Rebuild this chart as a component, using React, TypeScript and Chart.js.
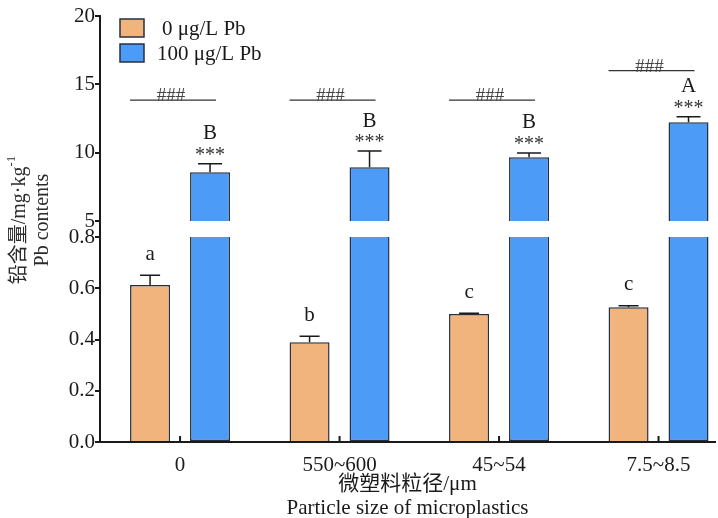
import { useEffect, useRef } from 'react'
import { Chart, registerables } from 'chart.js'

Chart.register(...registerables)

// particle size groups and the two Pb treatments
const sizeLabels = ['0', '550~600', '45~54', '7.5~8.5']
const seriesNames = ['0 μg/L Pb', '100 μg/L Pb']
const pb0 = [0.613, 0.389, 0.5, 0.526]
const pb0Err = [0.038, 0.024, 0.002, 0.006]
const pb100 = [8.56, 8.93, 9.66, 12.22]
const pb100Err = [0.63, 1.19, 0.32, 0.41]
const pb0Letters = ['a', 'b', 'c', 'c']
const pb100Letters = ['B', 'B', 'B', 'A']
const pb100Stars = ['***', '***', '***', '***']
const hashMarks = ['###', '###', '###', '###']
const hashLevels = [13.85, 13.85, 13.85, 16.0]
const lowTicks = [0, 0.2, 0.4, 0.6, 0.8]
const highTicks = [5, 10, 15, 20]
const xTitle = ['微塑料粒径/μm', 'Particle size of microplastics']
const yTitle = ['铅含量/mg·kg', '-1', 'Pb contents']

const ORANGE = '#F2B47D'
const BLUE = '#4C9BF7'
const EDGE = '#263041'
const INK = '#1a1a1a'
const SERIF = "'Liberation Serif', 'Times New Roman', 'Noto Sans CJK SC', serif"

// lower panel runs a little past its last tick so the break gap shows
const lowTop = lowTicks[lowTicks.length - 1]
const lowMax = lowTop * 221 / 205

Chart.defaults.font.family = SERIF
Chart.defaults.color = INK

const annotate = {
  id: 'annotate',
  afterDatasetsDraw(chart: Chart) {
    const { ctx, chartArea, scales } = chart
    const yLow = scales.yLow
    const yHigh = scales.yHigh
    const xs = scales.x
    const orange = chart.getDatasetMeta(0).data as any[]
    const blue = chart.getDatasetMeta(2).data as any[]

    ctx.save()
    ctx.strokeStyle = INK
    ctx.fillStyle = INK
    ctx.textAlign = 'center'

    const errBar = (cx: number, top: number, cap: number, half: number) => {
      ctx.lineWidth = 1.5
      ctx.beginPath()
      ctx.moveTo(cx, top)
      ctx.lineTo(cx, cap)
      ctx.moveTo(cx - half, cap)
      ctx.lineTo(cx + half, cap)
      ctx.stroke()
    }

    pb0.forEach((v, i) => {
      const cx = orange[i].x
      const cap = yLow.getPixelForValue(v + pb0Err[i])
      errBar(cx, yLow.getPixelForValue(v), cap, 10)
      ctx.font = `21px ${SERIF}`
      ctx.textBaseline = 'middle'
      ctx.fillText(pb0Letters[i], cx, cap - 21)
    })

    pb100.forEach((v, i) => {
      const cx = blue[i].x
      const cap = yHigh.getPixelForValue(v + pb100Err[i])
      errBar(cx, yHigh.getPixelForValue(v), cap, 12)
      ctx.textBaseline = 'middle'
      ctx.font = `21px ${SERIF}`
      ctx.fillText(pb100Letters[i], cx, cap - 30)
      ctx.font = `20px ${SERIF}`
      ctx.fillStyle = '#333'
      ctx.fillText(pb100Stars[i], cx, cap - 8)
      ctx.fillStyle = INK

      // ### bracket between the two treatments
      const ly = yHigh.getPixelForValue(hashLevels[i])
      const x0 = orange[i].x - 20
      const x1 = cx + 6
      ctx.strokeStyle = '#333'
      ctx.lineWidth = 1.2
      ctx.beginPath()
      ctx.moveTo(x0, ly)
      ctx.lineTo(x1, ly)
      ctx.stroke()
      ctx.strokeStyle = INK
      ctx.font = `19px ${SERIF}`
      ctx.fillStyle = '#444'
      ctx.textBaseline = 'alphabetic'
      ctx.fillText(hashMarks[i], (x0 + x1) / 2 - 2, ly + 1)
      ctx.fillStyle = INK
    })

    // small upward ticks on the x axis
    ctx.lineWidth = 2
    sizeLabels.forEach((_, i) => {
      const px = xs.getPixelForValue(i)
      ctx.beginPath()
      ctx.moveTo(px, chartArea.bottom)
      ctx.lineTo(px, chartArea.bottom - 6)
      ctx.stroke()
    })

    // legend
    const lx = chartArea.left + 20
    ;[ORANGE, BLUE].forEach((c, i) => {
      const ty = 19 + i * 25
      ctx.fillStyle = c
      ctx.fillRect(lx, ty, 24, 18)
      ctx.strokeStyle = EDGE
      ctx.lineWidth = 1.5
      ctx.strokeRect(lx, ty, 24, 18)
      ctx.fillStyle = INK
      ctx.font = `21px ${SERIF}`
      ctx.textAlign = 'left'
      ctx.textBaseline = 'middle'
      ctx.fillText(seriesNames[i], lx + (i === 0 ? 42 : 37), ty + 10)
    })

    // rotated y title with superscript
    ctx.fillStyle = '#2a2a2a'
    ctx.textAlign = 'left'
    ctx.textBaseline = 'middle'
    ctx.save()
    ctx.translate(20, 220)
    ctx.rotate(-Math.PI / 2)
    ctx.font = `20px ${SERIF}`
    const wMain = ctx.measureText(yTitle[0]).width
    ctx.font = `13px ${SERIF}`
    const wSup = ctx.measureText(yTitle[1]).width
    const start = -(wMain + wSup) / 2
    ctx.font = `20px ${SERIF}`
    ctx.fillText(yTitle[0], start, 0)
    ctx.font = `13px ${SERIF}`
    ctx.fillText(yTitle[1], start + wMain, -8)
    ctx.restore()
    ctx.save()
    ctx.translate(43, 220)
    ctx.rotate(-Math.PI / 2)
    ctx.font = `20px ${SERIF}`
    ctx.textAlign = 'center'
    ctx.fillText(yTitle[2], 0, 0)
    ctx.restore()

    ctx.restore()
  },
}

const yGrid = { drawOnChartArea: false, drawTicks: true, tickLength: 5, color: INK, lineWidth: 2 }
const tickFont = { family: SERIF, size: 21 }

export default function App() {
  const chartRef = useRef<HTMLCanvasElement>(null)
  const chartInstance = useRef<Chart | null>(null)

  useEffect(() => {
    if (!chartRef.current) return
    if (chartInstance.current) chartInstance.current.destroy()
    const ctx = chartRef.current.getContext('2d')
    if (!ctx) return

    const barOpts = {
      borderColor: EDGE,
      borderWidth: 1.5,
      categoryPercentage: 0.752,
      barPercentage: 0.667,
    }

    chartInstance.current = new Chart(ctx, {
      type: 'bar',
      data: {
        datasets: [
          {
            label: seriesNames[0],
            data: pb0.map((v, i) => ({ x: i, y: v })),
            yAxisID: 'yLow',
            stack: 'pb0',
            backgroundColor: ORANGE,
            borderSkipped: 'bottom',
            ...barOpts,
          },
          {
            label: seriesNames[1],
            data: pb100.map((v, i) => ({ x: i, y: [0, Math.min(v, lowTop)] })),
            yAxisID: 'yLow',
            stack: 'pb100',
            backgroundColor: BLUE,
            borderSkipped: 'top',
            ...barOpts,
          },
          {
            label: seriesNames[1],
            data: pb100.map((v, i) => ({ x: i, y: [highTicks[0], v] })),
            yAxisID: 'yHigh',
            stack: 'pb100',
            backgroundColor: BLUE,
            borderSkipped: 'bottom',
            ...barOpts,
          },
        ] as any,
      },
      options: {
        animation: false,
        responsive: true,
        maintainAspectRatio: false,
        layout: { padding: { top: 16, right: 3, left: 0, bottom: 0 } },
        plugins: {
          legend: { display: false },
          tooltip: { enabled: false },
        },
        scales: {
          x: {
            type: 'linear',
            min: -0.502,
            max: 3.354,
            offset: false,
            afterBuildTicks: (s: any) => {
              s.ticks = sizeLabels.map((_, i) => ({ value: i }))
            },
            afterFit: (s: any) => {
              s.height = 76
            },
            ticks: {
              callback: (v: any) => sizeLabels[v] ?? '',
              font: tickFont,
              color: INK,
              padding: 11,
              maxRotation: 0,
              autoSkip: false,
            },
            grid: { display: false, drawTicks: false },
            border: { display: true, color: INK, width: 2 },
            title: {
              display: true,
              text: xTitle,
              font: { family: SERIF, size: 21, lineHeight: '24px' },
              color: INK,
              padding: { top: 0, bottom: -2 },
            },
          },
          yLow: {
            type: 'linear',
            position: 'left',
            stack: 'pb',
            stackWeight: 221,
            weight: 1,
            min: 0,
            max: lowMax,
            stacked: false,
            beginAtZero: false,
            afterBuildTicks: (s: any) => {
              s.ticks = lowTicks.map(value => ({ value }))
            },
            afterFit: (s: any) => {
              s.width = 100
            },
            ticks: { font: tickFont, color: INK, padding: 0, callback: (v: any) => Number(v).toFixed(1) },
            grid: yGrid,
            border: { color: INK, width: 2 },
          },
          yHigh: {
            type: 'linear',
            position: 'left',
            stack: 'pb',
            stackWeight: 205,
            weight: 2,
            min: highTicks[0],
            max: highTicks[highTicks.length - 1],
            stacked: false,
            beginAtZero: false,
            afterBuildTicks: (s: any) => {
              s.ticks = highTicks.map(value => ({ value }))
            },
            afterFit: (s: any) => {
              s.width = 100
            },
            ticks: { font: tickFont, color: INK, padding: 0, callback: (v: any) => String(v) },
            grid: yGrid,
            border: { color: INK, width: 2 },
          },
        },
      } as any,
      plugins: [annotate],
    })

    return () => {
      if (chartInstance.current) {
        chartInstance.current.destroy()
        chartInstance.current = null
      }
    }
  }, [])

  return (
    <div style={{ position: 'fixed', left: 0, top: 0, width: 718, height: 518, background: '#fff' }}>
      <canvas ref={chartRef} />
    </div>
  )
}
